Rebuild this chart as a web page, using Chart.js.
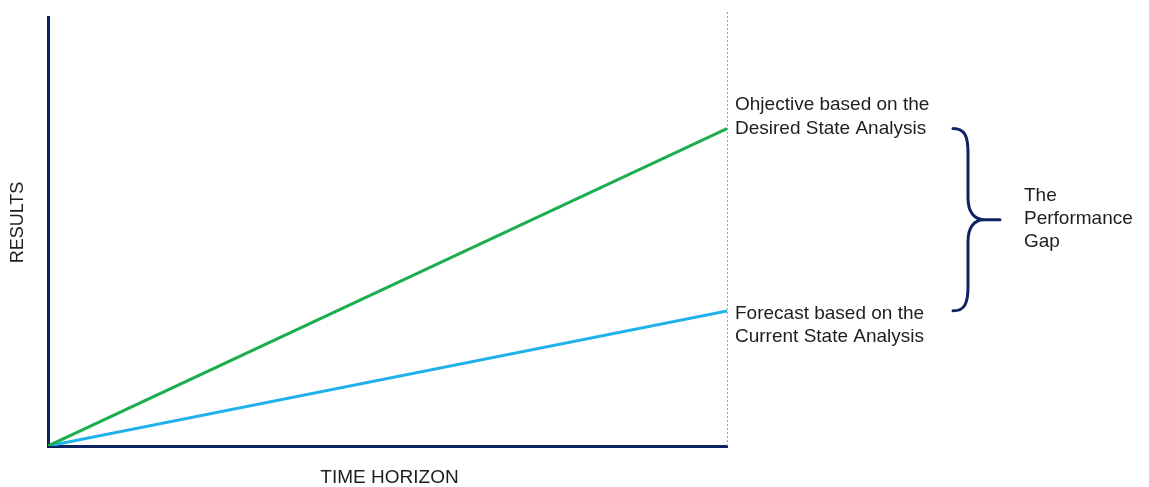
<!DOCTYPE html>
<html>
<head>
<meta charset="utf-8">
<title>Performance Gap</title>
<script src="https://cdn.jsdelivr.net/npm/chart.js@4/dist/chart.umd.min.js"></script>
<style>
  html, body { margin: 0; padding: 0; background: #ffffff; }
  #wrap { width: 1149px; height: 487px; }
</style>
</head>
<body>
<div id="wrap"><canvas id="gap" width="1149" height="487"></canvas></div>
<script>
// Time horizon: start and end of the planning period
const timeSteps = [0, 10];
// Objective based on the desired state analysis
const objectiveValues = [0, 74];
// Forecast based on the current state analysis
const forecastValues = [0, 31.5];
const resultsMax = 100;

const objectiveLabel = ['Ohjective based on the', 'Desired State Analysis'];
const forecastLabel = ['Forecast based on the', 'Current State Analysis'];
const gapLabel = ['The', 'Performance', 'Gap'];
const xTitle = 'TIME HORIZON';
const yTitle = 'RESULTS';

const NAVY = '#0c2461';
const TEXT = '#1e1e1e';
const FONT = '19px "Liberation Sans", Arial, sans-serif';
const Y_FONT = '18px "Liberation Sans", Arial, sans-serif';

const toPoints = (vals) => vals.map((v, i) => ({ x: timeSteps[i], y: v }));

// Draws the horizon marker, axis titles, end labels and the gap brace
const annotations = {
  id: 'annotations',
  beforeDatasetsDraw(chart) {
    const { ctx, chartArea, scales } = chart;
    const xEnd = scales.x.getPixelForValue(timeSteps[timeSteps.length - 1]);
    ctx.save();
    ctx.strokeStyle = '#a0a0a0';
    ctx.lineWidth = 1;
    ctx.setLineDash([2, 2]);
    ctx.beginPath();
    ctx.moveTo(Math.round(xEnd) + 0.5, chartArea.top - 5);
    ctx.lineTo(Math.round(xEnd) + 0.5, chartArea.bottom);
    ctx.stroke();
    ctx.restore();
  },
  afterDraw(chart) {
    const { ctx, chartArea, scales } = chart;
    const last = timeSteps.length - 1;
    const xEnd = scales.x.getPixelForValue(timeSteps[last]);
    const yObj = scales.y.getPixelForValue(objectiveValues[last]);
    const yFc = scales.y.getPixelForValue(forecastValues[last]);

    ctx.save();
    ctx.fillStyle = TEXT;
    ctx.textBaseline = 'middle';

    // axis titles
    ctx.textAlign = 'center';
    ctx.font = FONT;
    ctx.fillText(xTitle, (chartArea.left + chartArea.right) / 2 + 2, 478);
    ctx.save();
    ctx.font = Y_FONT;
    ctx.translate(18, (chartArea.top + chartArea.bottom) / 2 - 9);
    ctx.rotate(-Math.PI / 2);
    ctx.fillText(yTitle, 0, 0);
    ctx.restore();

    // end-of-line labels
    ctx.font = FONT;
    ctx.textAlign = 'left';
    const lx = xEnd + 8;
    ctx.fillText(objectiveLabel[0], lx, yObj - 24);
    ctx.fillText(objectiveLabel[1], lx, yObj);
    ctx.fillText(forecastLabel[0], lx, yFc + 3);
    ctx.fillText(forecastLabel[1], lx, yFc + 26);

    // brace spanning the gap
    const bx = xEnd + 226;
    const spine = bx + 15;
    const tip = bx + 47;
    const mid = (yObj + yFc) / 2;
    ctx.strokeStyle = NAVY;
    ctx.lineWidth = 3;
    ctx.lineCap = 'round';
    ctx.beginPath();
    ctx.moveTo(bx, yObj);
    ctx.bezierCurveTo(bx + 12, yObj, spine, yObj + 8, spine, yObj + 24);
    ctx.lineTo(spine, mid - 22);
    ctx.bezierCurveTo(spine, mid - 8, spine + 6, mid, spine + 16, mid);
    ctx.lineTo(tip, mid);
    ctx.moveTo(bx, yFc);
    ctx.bezierCurveTo(bx + 12, yFc, spine, yFc - 8, spine, yFc - 24);
    ctx.lineTo(spine, mid + 22);
    ctx.bezierCurveTo(spine, mid + 8, spine + 6, mid, spine + 16, mid);
    ctx.stroke();

    // gap label
    const gx = xEnd + 297;
    ctx.fillText(gapLabel[0], gx, mid - 24);
    ctx.fillText(gapLabel[1], gx, mid - 1);
    ctx.fillText(gapLabel[2], gx, mid + 22);
    ctx.restore();
  }
};

new Chart(document.getElementById('gap'), {
  type: 'line',
  data: {
    datasets: [
      {
        label: 'Objective',
        data: toPoints(objectiveValues),
        borderColor: '#1aae4c',
        borderWidth: 3,
        pointRadius: 0,
        tension: 0
      },
      {
        label: 'Forecast',
        data: toPoints(forecastValues),
        borderColor: '#1fb2ea',
        borderWidth: 3,
        pointRadius: 0,
        tension: 0
      }
    ]
  },
  options: {
    responsive: false,
    animation: false,
    layout: { padding: { left: 48, right: 422, top: 17, bottom: 41 } },
    plugins: { legend: { display: false }, tooltip: { enabled: false } },
    scales: {
      x: {
        type: 'linear',
        min: timeSteps[0],
        max: timeSteps[timeSteps.length - 1],
        grid: { display: false, drawTicks: false },
        ticks: { display: false },
        border: { display: true, color: NAVY, width: 3 }
      },
      y: {
        type: 'linear',
        min: 0,
        max: resultsMax,
        grid: { display: false, drawTicks: false },
        ticks: { display: false },
        border: { display: true, color: NAVY, width: 3 }
      }
    }
  },
  plugins: [annotations]
});
</script>
</body>
</html>
